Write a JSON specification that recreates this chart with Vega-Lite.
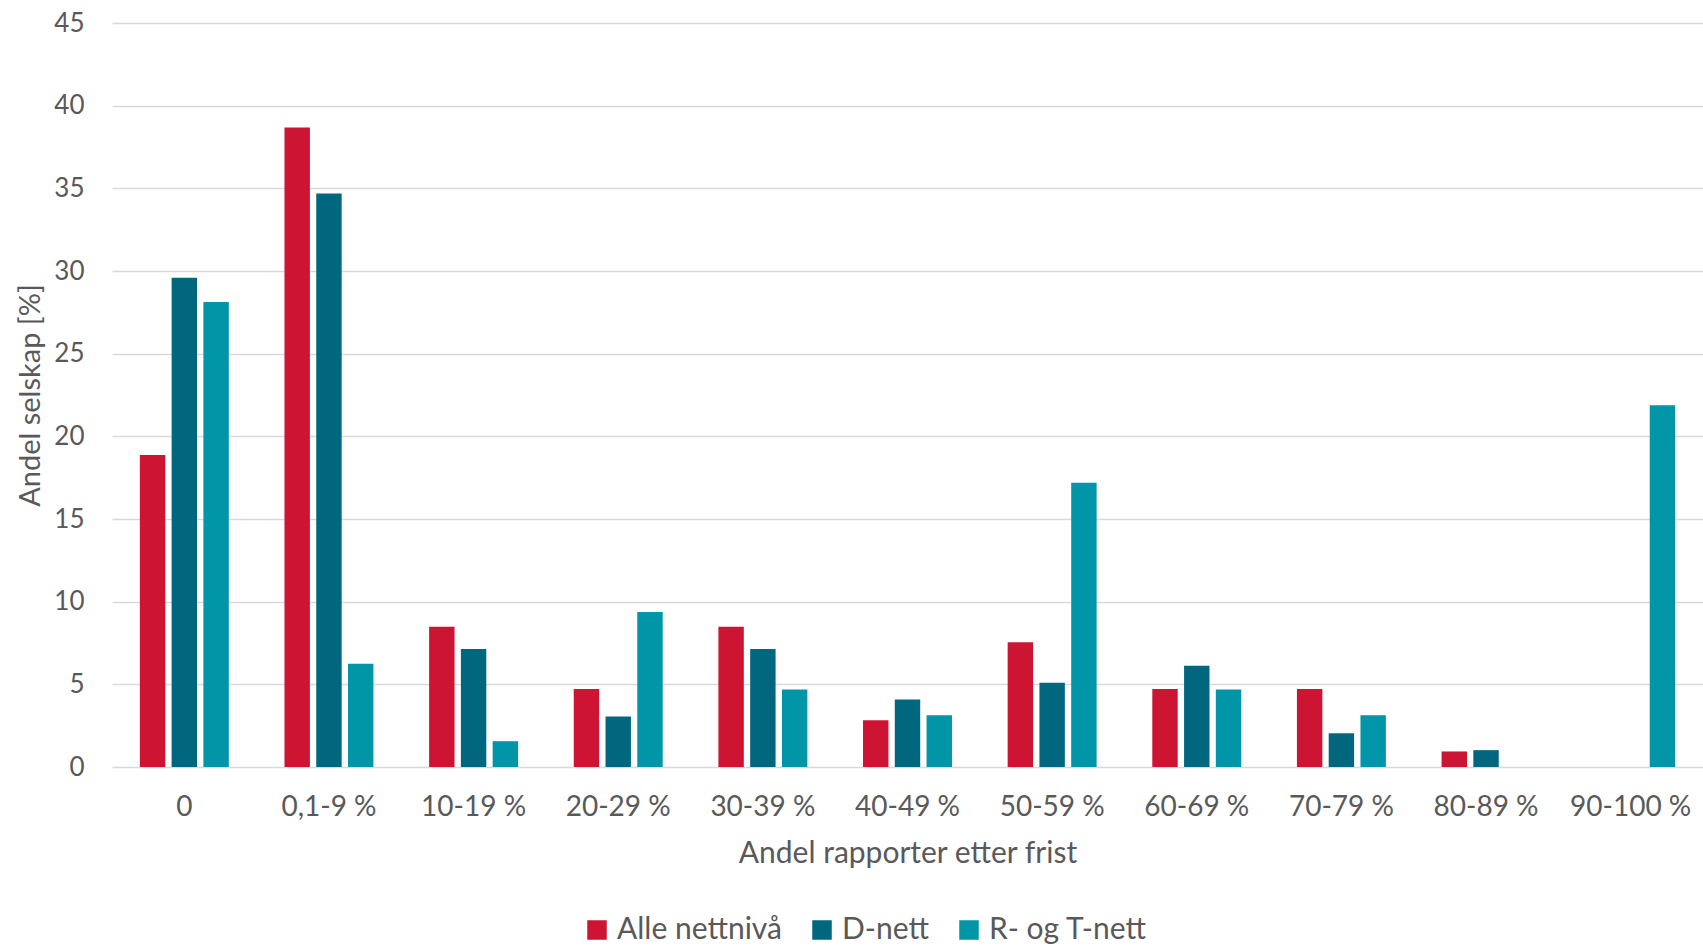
{
  "$schema": "https://vega.github.io/schema/vega-lite/v6.json",
  "width": 1591,
  "height": 744,
  "autosize": "none",
  "padding": {"left": 112, "top": 23, "right": 0, "bottom": 179},
  "background": "white",
  "config": {
    "font": "Lato",
    "view": {"stroke": null},
    "axis": {"labelColor": "#595959", "titleColor": "#595959", "labelFont": "Lato", "titleFont": "Lato", "titleFontWeight": "normal"},
    "legend": {"labelColor": "#595959", "labelFont": "Lato"}
  },
  "data": {
    "values": [
      {"kategori": "0", "serie": "Alle nettnivå", "verdi": 18.87},
      {"kategori": "0", "serie": "D-nett", "verdi": 29.59},
      {"kategori": "0", "serie": "R- og T-nett", "verdi": 28.13},
      {"kategori": "0,1-9 %", "serie": "Alle nettnivå", "verdi": 38.68},
      {"kategori": "0,1-9 %", "serie": "D-nett", "verdi": 34.69},
      {"kategori": "0,1-9 %", "serie": "R- og T-nett", "verdi": 6.25},
      {"kategori": "10-19 %", "serie": "Alle nettnivå", "verdi": 8.49},
      {"kategori": "10-19 %", "serie": "D-nett", "verdi": 7.14},
      {"kategori": "10-19 %", "serie": "R- og T-nett", "verdi": 1.56},
      {"kategori": "20-29 %", "serie": "Alle nettnivå", "verdi": 4.72},
      {"kategori": "20-29 %", "serie": "D-nett", "verdi": 3.06},
      {"kategori": "20-29 %", "serie": "R- og T-nett", "verdi": 9.38},
      {"kategori": "30-39 %", "serie": "Alle nettnivå", "verdi": 8.49},
      {"kategori": "30-39 %", "serie": "D-nett", "verdi": 7.14},
      {"kategori": "30-39 %", "serie": "R- og T-nett", "verdi": 4.69},
      {"kategori": "40-49 %", "serie": "Alle nettnivå", "verdi": 2.83},
      {"kategori": "40-49 %", "serie": "D-nett", "verdi": 4.08},
      {"kategori": "40-49 %", "serie": "R- og T-nett", "verdi": 3.13},
      {"kategori": "50-59 %", "serie": "Alle nettnivå", "verdi": 7.55},
      {"kategori": "50-59 %", "serie": "D-nett", "verdi": 5.10},
      {"kategori": "50-59 %", "serie": "R- og T-nett", "verdi": 17.19},
      {"kategori": "60-69 %", "serie": "Alle nettnivå", "verdi": 4.72},
      {"kategori": "60-69 %", "serie": "D-nett", "verdi": 6.12},
      {"kategori": "60-69 %", "serie": "R- og T-nett", "verdi": 4.69},
      {"kategori": "70-79 %", "serie": "Alle nettnivå", "verdi": 4.72},
      {"kategori": "70-79 %", "serie": "D-nett", "verdi": 2.04},
      {"kategori": "70-79 %", "serie": "R- og T-nett", "verdi": 3.13},
      {"kategori": "80-89 %", "serie": "Alle nettnivå", "verdi": 0.94},
      {"kategori": "80-89 %", "serie": "D-nett", "verdi": 1.02},
      {"kategori": "90-100 %", "serie": "R- og T-nett", "verdi": 21.88}
    ]
  },
  "mark": {"type": "bar"},
  "encoding": {
    "x": {
      "field": "kategori",
      "type": "nominal",
      "sort": ["0", "0,1-9 %", "10-19 %", "20-29 %", "30-39 %", "40-49 %", "50-59 %", "60-69 %", "70-79 %", "80-89 %", "90-100 %"],
      "scale": {"paddingInner": 0.385, "paddingOuter": 0.1925},
      "axis": {
        "title": "Andel rapporter etter frist",
        "titleFontSize": 30,
        "titlePadding": 17,
        "labelFontSize": 28,
        "labelAngle": 0,
        "labelPadding": 26,
        "domain": false,
        "ticks": false,
        "grid": false
      }
    },
    "xOffset": {
      "field": "serie",
      "type": "nominal",
      "sort": ["Alle nettnivå", "D-nett", "R- og T-nett"],
      "scale": {"paddingInner": 0.2, "paddingOuter": 0}
    },
    "y": {
      "field": "verdi",
      "type": "quantitative",
      "scale": {"domain": [0, 45], "nice": false},
      "axis": {
        "title": "Andel selskap [%]",
        "titleFontSize": 29,
        "titleAngle": -90,
        "titleX": -82,
        "titleY": 372,
        "titleAlign": "center",
        "titleBaseline": "middle",
        "labelFontSize": 26,
        "labelPadding": 28,
        "values": [0, 5, 10, 15, 20, 25, 30, 35, 40, 45],
        "domain": false,
        "ticks": false,
        "grid": true,
        "gridColor": "#D9D9D9",
        "gridWidth": 1.5
      }
    },
    "color": {
      "field": "serie",
      "type": "nominal",
      "sort": ["Alle nettnivå", "D-nett", "R- og T-nett"],
      "scale": {
        "domain": ["Alle nettnivå", "D-nett", "R- og T-nett"],
        "range": ["#CD1432", "#00677E", "#0095A7"]
      },
      "legend": {
        "title": null,
        "orient": "none",
        "direction": "horizontal",
        "legendX": 470,
        "legendY": 892,
        "symbolType": "square",
        "symbolSize": 380,
        "symbolStrokeWidth": 0,
        "labelFontSize": 30,
        "labelLimit": 0,
        "labelOffset": 5,
        "columnPadding": 25
      }
    }
  }
}
